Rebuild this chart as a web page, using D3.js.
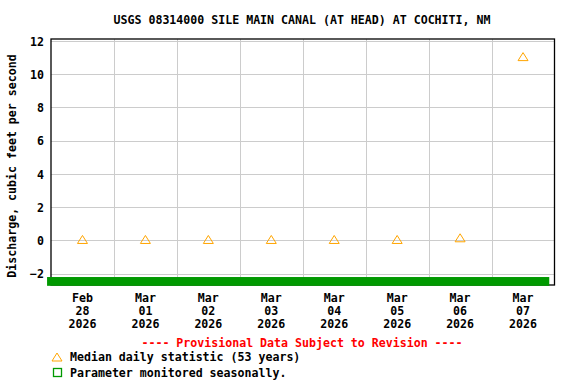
<!DOCTYPE html>
<html>
<head>
<meta charset="utf-8">
<script src="https://cdn.jsdelivr.net/npm/d3@7"></script>
<style>
  body { margin: 0; background: #fff; }
  svg { display: block; }
  text { font-family: "DejaVu Sans Mono", "Liberation Mono", monospace; font-weight: bold; font-size: 11.6px; }
</style>
</head>
<body>
<svg width="576" height="384"></svg>
<script>
const svg = d3.select("svg");

// chart data
const title = "USGS 08314000 SILE MAIN CANAL (AT HEAD) AT COCHITI, NM";
const yLabel = "Discharge, cubic feet per second";
const days = ["2026-02-28", "2026-03-01", "2026-03-02", "2026-03-03", "2026-03-04", "2026-03-05", "2026-03-06", "2026-03-07"];
const medians = [0, 0, 0, 0, 0, 0, 0.1, 11];
const yTicks = [-2, 0, 2, 4, 6, 8, 10, 12];
const season = ["2026-02-27T22:30", "2026-03-07T22:00"]; // parameter monitored seasonally

const parseDay = d3.timeParse("%Y-%m-%d");
const parseTime = d3.timeParse("%Y-%m-%dT%H:%M");
const noon = d => d3.timeHour.offset(parseDay(d), 12);

const plotL = 51, plotR = 554.5, plotT = 39, plotB = 285;

const x = d3.scaleTime()
  .domain([parseDay("2026-02-28"), parseDay("2026-03-08")])
  .range([plotL, plotR]);
const y = d3.scaleLinear()
  .domain([-2.68, 12.12])
  .range([plotB, plotT]);

// grid
const grid = svg.append("g").attr("stroke", "#cccccc").attr("stroke-width", 1);
grid.selectAll("line.h").data(yTicks).join("line")
  .attr("x1", plotL).attr("x2", plotR)
  .attr("y1", d => Math.round(y(d)) + 0.5).attr("y2", d => Math.round(y(d)) + 0.5);
grid.selectAll("line.v").data(days.slice(1)).join("line")
  .attr("y1", plotT).attr("y2", plotB)
  .attr("x1", d => Math.round(x(parseDay(d))) + 0.5).attr("x2", d => Math.round(x(parseDay(d))) + 0.5);

// frame
svg.append("rect")
  .attr("x", plotL).attr("y", plotT)
  .attr("width", plotR - plotL).attr("height", plotB - plotT)
  .attr("fill", "none").attr("stroke", "#000").attr("stroke-width", 1.3);

// seasonal bar
svg.append("rect")
  .attr("x", x(parseTime(season[0])))
  .attr("width", x(parseTime(season[1])) - x(parseTime(season[0])))
  .attr("y", y(-2.2))
  .attr("height", y(-2.73) - y(-2.2))
  .attr("fill", "#009900");

// y axis labels
const yAxis = svg.append("g")
  .attr("transform", `translate(${plotL - 7},0)`)
  .call(d3.axisLeft(y).tickValues(yTicks).tickSize(0).tickPadding(0).tickFormat(d => d < 0 ? "\u2212" + (-d) : d));
yAxis.select(".domain").remove();
yAxis.selectAll("text")
  .attr("font-family", null).attr("font-size", null)
  .attr("fill", "#000").attr("dy", "0.35em");

// x axis labels (three lines each, at noon)
const xl = svg.append("g").selectAll("text").data(days).join("text")
  .attr("text-anchor", "middle")
  .attr("x", d => x(noon(d)))
  .attr("y", 302);
const fmts = [d3.timeFormat("%b"), d3.timeFormat("%d"), d3.timeFormat("%Y")];
xl.each(function (d) {
  const t = d3.select(this);
  fmts.forEach((f, i) => {
    t.append("tspan").attr("x", x(noon(d))).attr("dy", i ? 13 : 0).text(f(parseDay(d)));
  });
});

// medians
const tri = "M0,-5L5,3L-5,3Z";
svg.append("g").selectAll("path").data(days).join("path")
  .attr("d", tri)
  .attr("transform", (d, i) => `translate(${x(noon(d))},${y(medians[i])})`)
  .attr("fill", "none").attr("stroke", "#ffa500").attr("stroke-width", 1);

// title and y label
svg.append("text").attr("x", 302).attr("y", 24).attr("text-anchor", "middle").text(title);
svg.append("text")
  .attr("transform", `translate(16,${(plotT + plotB) / 2 + 4}) rotate(-90)`)
  .attr("text-anchor", "middle").text(yLabel);

// legend
svg.append("text").attr("x", 302).attr("y", 347).attr("text-anchor", "middle")
  .attr("fill", "#ff0000").text("---- Provisional Data Subject to Revision ----");
svg.append("path").attr("d", tri).attr("transform", "translate(57,358)")
  .attr("fill", "none").attr("stroke", "#ffa500");
svg.append("text").attr("x", 70).attr("y", 361).text("Median daily statistic (53 years)");
svg.append("rect").attr("x", 53.5).attr("y", 368.5).attr("width", 8).attr("height", 8)
  .attr("fill", "none").attr("stroke", "#009900").attr("stroke-width", 1.3);
svg.append("text").attr("x", 70).attr("y", 377).text("Parameter monitored seasonally.");
</script>
</body>
</html>
